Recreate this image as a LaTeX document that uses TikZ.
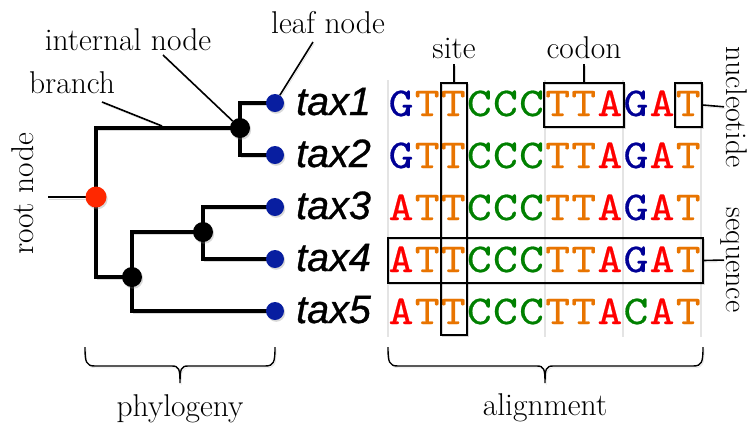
\documentclass[tikz,border=0pt]{standalone}
\usepackage{fontspec}
\usetikzlibrary{shadows,backgrounds}
\newfontfamily\taxfont{Liberation Sans}[FakeBold=0.8]
\newfontfamily\seqfont{lmmono10-regular}[Extension=.otf,FakeStretch=1.15,FakeBold=0.6]
\definecolor{colA}{RGB}{255,0,0}
\definecolor{colC}{RGB}{0,128,0}
\definecolor{colG}{RGB}{0,0,150}
\definecolor{colT}{RGB}{232,116,0}
\definecolor{leafblue}{RGB}{8,30,160}
\definecolor{rootred}{RGB}{255,40,0}
\definecolor{guide}{RGB}{228,228,228}
\begin{document}
\begin{tikzpicture}[x=1bp,y=-1bp,
  lbl/.style={font=\fontsize{31.5bp}{36bp}\selectfont, inner sep=0pt},
  sidelbl/.style={font=\fontsize{30bp}{36bp}\selectfont, inner sep=0pt},
  tax/.style={font=\taxfont\itshape\fontsize{39.5bp}{40bp}\selectfont, anchor=base west, inner sep=0pt},
  nuc/.style={font=\seqfont\fontsize{41bp}{41bp}\selectfont, anchor=base, inner sep=0pt},
  nucA/.style={text=colA}, nucC/.style={text=colC},
  nucG/.style={text=colG}, nucT/.style={text=colT},
  soft/.style={preaction={draw=black, opacity=0.15, transform canvas={shift={(1.2bp,-1.8bp)}}}},
  edge/.style={line width=4.5bp, soft},
  leader/.style={line width=1.6bp, soft},
  dotshadow/.style={drop shadow={opacity=0.3, shadow xshift=1.2bp, shadow yshift=-1.8bp}},
  leafdot/.style={circle, fill=leafblue, minimum size=18bp, inner sep=0pt, dotshadow},
  innerdot/.style={circle, fill=black, minimum size=20bp, inner sep=0pt, dotshadow},
  rootdot/.style={circle, fill=rootred, minimum size=21bp, inner sep=0pt, dotshadow},
  box/.style={draw, line width=1.3bp, inner sep=0pt, soft},
  brace/.style={line width=1.4bp, soft}]

\useasboundingbox (0,0) rectangle (751,425);

% ---------------- phylogeny ----------------
\node[rootdot]  (root) at (96,197) {};
\node[innerdot] (n12)  at (240,128) {};
\node[innerdot] (n345) at (132,277) {};
\node[innerdot] (n34)  at (203,232) {};
\foreach \i in {1,...,5}
  \node[leafdot] (t\i) at (275,{103+52*(\i-1)}) {};
\coordinate (stub) at (48,197);

\begin{scope}[on background layer]
  \draw[edge] (root.center) |- (n12.center);
  \draw[edge] (root.center) |- (n345.center);
  \draw[edge] (n12.center) |- (t1.center);
  \draw[edge] (n12.center) |- (t2.center);
  \draw[edge] (n345.center) |- (n34.center);
  \draw[edge] (n345.center) |- (t5.center);
  \draw[edge] (n34.center) |- (t3.center);
  \draw[edge] (n34.center) |- (t4.center);
  \draw[leader, line width=2bp] (stub) -- (root.center);
\end{scope}

\foreach \i in {1,...,5}
  \node[tax] (tax\i) at (296,{115+52*(\i-1)}) {tax\i};

% annotation labels of the tree
\node[lbl, anchor=base] (branchlbl) at (72,93) {branch};
\node[lbl, anchor=base] (innerlbl) at (128,50) {internal node};
\node[lbl, anchor=base] (leaflbl) at (328,33) {leaf node};
\node[lbl, anchor=base, rotate=90] (rootlbl) at (33,194) {root node};

\coordinate (branchfrom) at (102,102);
\coordinate (branchto) at (162,126);
\coordinate (innerfrom) at (163,55);
\coordinate (leaffrom) at (313,42);
\draw[leader] (branchfrom) -- (branchto);
\draw[leader] (innerfrom) -- (n12);
\draw[leader] (leaffrom) -- (t1);

% ---------------- alignment ----------------
\foreach \gx in {388,544.6,622.9,701.2}
  \draw[guide, line width=2bp] (\gx,80) -- (\gx,337);

\foreach \row [count=\r] in {{G,T,T,C,C,C,T,T,A,G,A,T},
                             {G,T,T,C,C,C,T,T,A,G,A,T},
                             {A,T,T,C,C,C,T,T,A,G,A,T},
                             {A,T,T,C,C,C,T,T,A,G,A,T},
                             {A,T,T,C,C,C,T,T,A,C,A,T}}
  \foreach \b [count=\c] in \row
    \node[nuc, nuc\b] (s\r-\c) at ({388+26.1*(\c-0.5)},{116+52*(\r-1)}) {\b};

\node[box, minimum width=26bp, minimum height=252bp] (sitebox) at (454,209) {};
\node[box, minimum width=80bp, minimum height=44bp] (codonbox) at (584,105) {};
\node[box, minimum width=27bp, minimum height=44bp] (ntbox) at (688.5,105) {};
\node[box, minimum width=315bp, minimum height=45bp] (seqbox) at (545.5,260.5) {};

\node[lbl, anchor=base] (sitelbl) at (454,58) {site};
\node[lbl, anchor=base] (codonlbl) at (584,58) {codon};
\node[sidelbl, anchor=base, rotate=-90] (ntlbl) at (726,107) {nucleotide};
\node[sidelbl, anchor=base, rotate=-90] (seqlbl) at (726,260) {sequence};

\draw[leader, shorten >=6bp] (sitebox.north) -- (sitelbl.south);
\draw[leader, shorten >=6bp] (codonbox.north) -- (codonlbl.south);
\draw[leader, shorten >=2bp] (ntbox.east) -- (ntlbl.base);
\draw[leader, shorten >=2bp] (seqbox.east) -- (seqlbl.base);

% ---------------- braces ----------------
\coordinate (phyL) at (85,347);
\coordinate (phyR) at (275,347);
\coordinate (phyTip) at (180,383);
\draw[brace] (phyL) .. controls (85,362) and (86,366) .. (95,366) -- (172,366)
  .. controls (179,366) and (180,369) .. (phyTip)
  .. controls (180,369) and (181,366) .. (188,366) -- (265,366)
  .. controls (274,366) and (275,362) .. (phyR);
\node[lbl, anchor=base] (phylbl) at (180,416) {phylogeny};

\coordinate (alnL) at (388,347);
\coordinate (alnR) at (703,347);
\coordinate (alnTip) at (545,383);
\draw[brace] (alnL) .. controls (388,362) and (389,366) .. (398,366) -- (537,366)
  .. controls (544,366) and (545,369) .. (alnTip)
  .. controls (545,369) and (546,366) .. (553,366) -- (693,366)
  .. controls (702,366) and (703,362) .. (alnR);
\node[lbl, anchor=base] (alnlbl) at (545,415) {alignment};
\end{tikzpicture}
\end{document}
